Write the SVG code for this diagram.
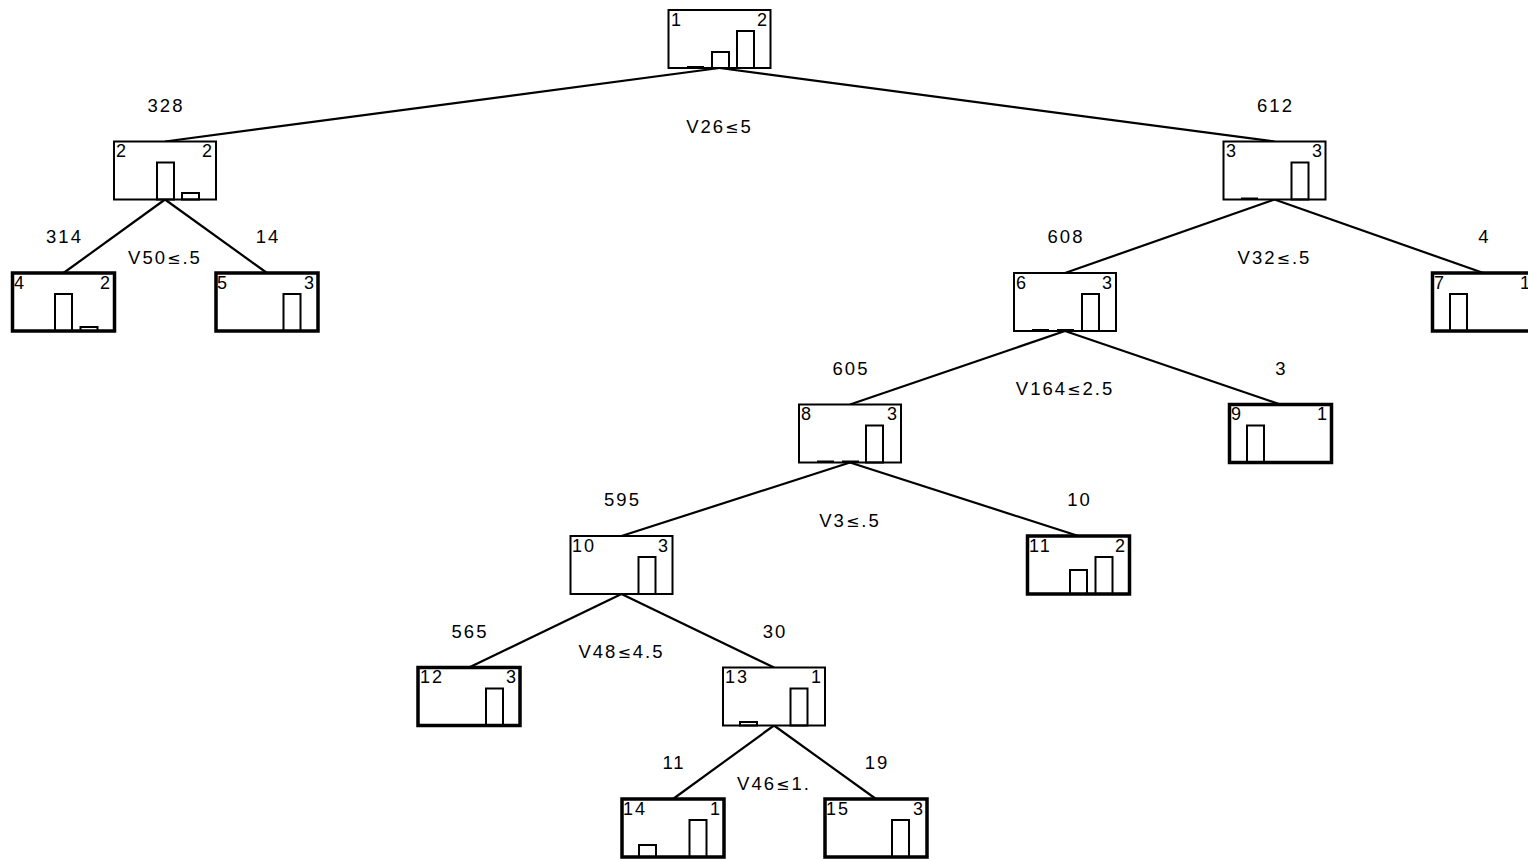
<svg xmlns="http://www.w3.org/2000/svg" width="1528" height="859" viewBox="0 0 1528 859">
<style>
.box{fill:#fff;stroke:#000;stroke-width:2}
.leaf{fill:#fff;stroke:#000;stroke-width:3.5}
.bar{fill:none;stroke:#000;stroke-width:2}
.edge{stroke:#000;stroke-width:2.2;fill:none}
text{font-family:"Liberation Sans",Arial,sans-serif;fill:#000}
.nl{font-size:18px}
.nr{font-size:18px;text-anchor:end}
.el{font-size:18.5px;text-anchor:middle;letter-spacing:2px}
.le{font-family:"DejaVu Sans",sans-serif;font-size:16px}
</style>
<g id="connectors">
<line class="edge" x1="719.5" y1="68" x2="165" y2="141.5"/>
<line class="edge" x1="719.5" y1="68" x2="1274.5" y2="141.5"/>
<line class="edge" x1="165" y1="199.5" x2="63.5" y2="273"/>
<line class="edge" x1="165" y1="199.5" x2="267" y2="273"/>
<line class="edge" x1="1274.5" y1="199.5" x2="1065" y2="273"/>
<line class="edge" x1="1274.5" y1="199.5" x2="1483.5" y2="273"/>
<line class="edge" x1="1065" y1="331" x2="850" y2="404.5"/>
<line class="edge" x1="1065" y1="331" x2="1280.5" y2="404.5"/>
<line class="edge" x1="850" y1="462.5" x2="621.5" y2="536"/>
<line class="edge" x1="850" y1="462.5" x2="1078.5" y2="536"/>
<line class="edge" x1="621.5" y1="594" x2="469" y2="667.5"/>
<line class="edge" x1="621.5" y1="594" x2="774" y2="667.5"/>
<line class="edge" x1="774" y1="725.5" x2="673" y2="799"/>
<line class="edge" x1="774" y1="725.5" x2="876" y2="799"/>
<text class="el" x="166" y="111.5">328</text>
<text class="el" x="1275.5" y="111.5">612</text>
<text class="el" x="719.5" y="132.5">V26<tspan class="le">≤</tspan>5</text>
<text class="el" x="64.5" y="243">314</text>
<text class="el" x="268" y="243">14</text>
<text class="el" x="165" y="263.5">V50<tspan class="le">≤</tspan>.5</text>
<text class="el" x="1066" y="243">608</text>
<text class="el" x="1484.5" y="243">4</text>
<text class="el" x="1274.5" y="263.5">V32<tspan class="le">≤</tspan>.5</text>
<text class="el" x="851" y="374.5">605</text>
<text class="el" x="1281.5" y="374.5">3</text>
<text class="el" x="1065" y="395">V164<tspan class="le">≤</tspan>2.5</text>
<text class="el" x="622.5" y="506">595</text>
<text class="el" x="1079.5" y="506">10</text>
<text class="el" x="850" y="526.5">V3<tspan class="le">≤</tspan>.5</text>
<text class="el" x="470" y="637.5">565</text>
<text class="el" x="775" y="637.5">30</text>
<text class="el" x="621.5" y="658">V48<tspan class="le">≤</tspan>4.5</text>
<text class="el" x="674" y="769">11</text>
<text class="el" x="877" y="769">19</text>
<text class="el" x="774" y="789.5">V46<tspan class="le">≤</tspan>1.</text>
</g>
<g id="node1">
<rect class="box" x="668.5" y="10" width="102" height="58"/>
<line class="bar" x1="687" y1="67" x2="704" y2="67"/>
<rect class="bar" x="712" y="52" width="17" height="16"/>
<rect class="bar" x="737" y="31" width="17" height="37"/>
<text class="nl" x="671" y="25.5">1</text>
<text class="nr" x="767" y="25.5">2</text>
</g>
<g id="node2">
<rect class="box" x="114" y="141.5" width="102" height="58"/>
<rect class="bar" x="157" y="162.5" width="17" height="37"/>
<rect class="bar" x="182" y="193" width="17" height="6.5"/>
<text class="nl" x="116" y="157">2</text>
<text class="nr" x="212" y="157">2</text>
</g>
<g id="node3">
<rect class="box" x="1223.5" y="141.5" width="102" height="58"/>
<line class="bar" x1="1241" y1="198.5" x2="1258" y2="198.5"/>
<rect class="bar" x="1291.5" y="162.5" width="17" height="37"/>
<text class="nl" x="1226" y="157">3</text>
<text class="nr" x="1322" y="157">3</text>
</g>
<g id="node4">
<rect class="leaf" x="12.5" y="273" width="102" height="58"/>
<rect class="bar" x="55" y="294" width="17" height="37"/>
<rect class="bar" x="80.5" y="327" width="17" height="4"/>
<text class="nl" x="14" y="288.5">4</text>
<text class="nr" x="110" y="288.5">2</text>
</g>
<g id="node5">
<rect class="leaf" x="216" y="273" width="102" height="58"/>
<rect class="bar" x="283.5" y="294" width="17" height="37"/>
<text class="nl" x="217" y="288.5">5</text>
<text class="nr" x="314" y="288.5">3</text>
</g>
<g id="node6">
<rect class="box" x="1014" y="273" width="102" height="58"/>
<line class="bar" x1="1032" y1="330" x2="1049" y2="330"/>
<line class="bar" x1="1057" y1="330" x2="1074" y2="330"/>
<rect class="bar" x="1082" y="294" width="17" height="37"/>
<text class="nl" x="1016" y="288.5">6</text>
<text class="nr" x="1112" y="288.5">3</text>
</g>
<g id="node7">
<rect class="leaf" x="1432.5" y="273" width="102" height="58"/>
<rect class="bar" x="1450" y="294" width="17" height="37"/>
<text class="nl" x="1434" y="288.5">7</text>
<text class="nr" x="1530" y="288.5">1</text>
</g>
<g id="node8">
<rect class="box" x="799" y="404.5" width="102" height="58"/>
<line class="bar" x1="817" y1="461.5" x2="834" y2="461.5"/>
<line class="bar" x1="842" y1="461.5" x2="859" y2="461.5"/>
<rect class="bar" x="866" y="425.5" width="17" height="37"/>
<text class="nl" x="801" y="420">8</text>
<text class="nr" x="897" y="420">3</text>
</g>
<g id="node9">
<rect class="leaf" x="1229.5" y="404.5" width="102" height="58"/>
<rect class="bar" x="1247" y="425.5" width="17" height="37"/>
<text class="nl" x="1231" y="420">9</text>
<text class="nr" x="1327" y="420">1</text>
</g>
<g id="node10">
<rect class="box" x="570.5" y="536" width="102" height="58"/>
<rect class="bar" x="638.5" y="557" width="17" height="37"/>
<text class="nl" x="572" y="551.5" letter-spacing="2">10</text>
<text class="nr" x="668" y="551.5">3</text>
</g>
<g id="node11">
<rect class="leaf" x="1027.5" y="536" width="102" height="58"/>
<rect class="bar" x="1070" y="570" width="17" height="24"/>
<rect class="bar" x="1095.5" y="557" width="17" height="37"/>
<text class="nl" x="1029" y="551.5" letter-spacing="2">11</text>
<text class="nr" x="1125" y="551.5">2</text>
</g>
<g id="node12">
<rect class="leaf" x="418" y="667.5" width="102" height="58"/>
<rect class="bar" x="486" y="688.5" width="17" height="37"/>
<text class="nl" x="420" y="683" letter-spacing="2">12</text>
<text class="nr" x="516" y="683">3</text>
</g>
<g id="node13">
<rect class="box" x="723" y="667.5" width="102" height="58"/>
<rect class="bar" x="740" y="722" width="17" height="3.5"/>
<rect class="bar" x="790.5" y="688.5" width="17" height="37"/>
<text class="nl" x="725" y="683" letter-spacing="2">13</text>
<text class="nr" x="821" y="683">1</text>
</g>
<g id="node14">
<rect class="leaf" x="622" y="799" width="102" height="58"/>
<rect class="bar" x="639" y="845" width="17" height="12"/>
<rect class="bar" x="689.5" y="820" width="17" height="37"/>
<text class="nl" x="623" y="814.5" letter-spacing="2">14</text>
<text class="nr" x="720" y="814.5">1</text>
</g>
<g id="node15">
<rect class="leaf" x="825" y="799" width="102" height="58"/>
<rect class="bar" x="892" y="820" width="17" height="37"/>
<text class="nl" x="826" y="814.5" letter-spacing="2">15</text>
<text class="nr" x="923" y="814.5">3</text>
</g>
</svg>
